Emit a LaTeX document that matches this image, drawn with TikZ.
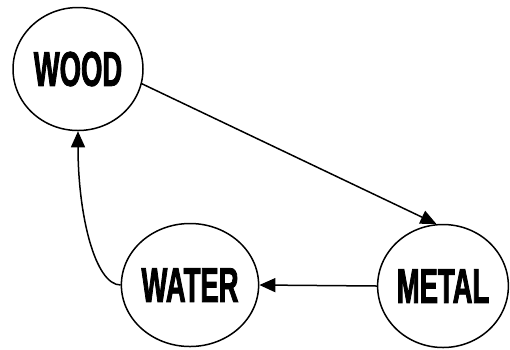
\documentclass[tikz,border=0pt]{standalone}
\usepackage{fontspec}
\setmainfont{Liberation Sans}[BoldFeatures={FakeStretch=0.56,FakeBold=1.6}]
\usetikzlibrary{shapes.geometric,arrows.meta}
\begin{document}
\begin{tikzpicture}[x=1pt,y=-1pt,
  element/.style={ellipse,draw,line width=1.5pt,inner sep=0pt,
    minimum width=130pt,minimum height=123pt,
    font=\fontsize{49}{49}\selectfont\bfseries},
  flow/.style={line width=1.5pt,-{Triangle[length=16pt,width=14pt]}}]
  \useasboundingbox (0,0) rectangle (510,349);
  \node[element] (wood)  at (78,69)  {\raisebox{-1pt}{WOOD}};
  \node[element] (water) at (190,285) {\raisebox{-3pt}{WATER}};
  \node[element,minimum width=124pt] (metal) at (443,286) {\raisebox{-2pt}{METAL}};
  \draw[flow] (wood.-13) -- (metal.96);
  \draw[flow] (metal.west) -- (water.east);
  \draw[flow] (water.west) .. controls (95,285) and (78,215) .. (wood.south);
\end{tikzpicture}
\end{document}
